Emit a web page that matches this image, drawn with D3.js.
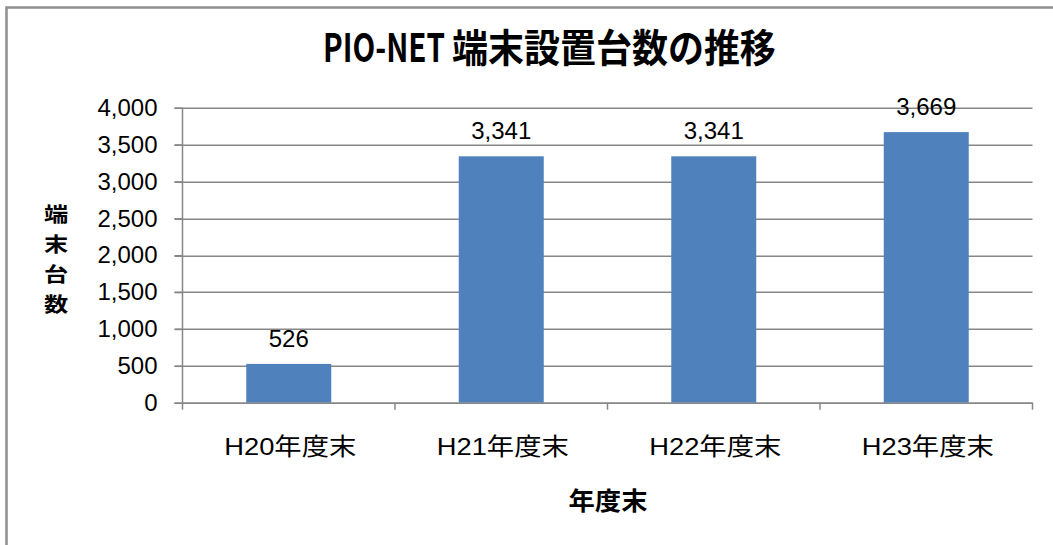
<!DOCTYPE html>
<html>
<head>
<meta charset="utf-8">
<script src="https://cdn.jsdelivr.net/npm/d3@7"></script>
<style>
  body { margin: 0; background: #fff; }
  svg { display: block; font-family: "Liberation Sans", "Noto Sans CJK JP", sans-serif; }
</style>
</head>
<body>
<svg width="1053" height="545"></svg>
<script>
var categories = ["H20年度末", "H21年度末", "H22年度末", "H23年度末"];
var values = [526, 3341, 3341, 3669];
var yTicks = [0, 500, 1000, 1500, 2000, 2500, 3000, 3500, 4000];

var margin = {top: 108, right: 20, bottom: 142, left: 183},
    width = 1053 - margin.left - margin.right,
    height = 545 - margin.top - margin.bottom;

var svg = d3.select("svg");

// outer frame, runs off the right and bottom of the picture
svg.append("rect")
    .attr("x", 6.5).attr("y", 7.5)
    .attr("width", 1100).attr("height", 600)
    .attr("fill", "none")
    .attr("stroke", "#8f8f8f")
    .attr("stroke-width", 2.5);

var x = d3.scaleBand()
    .domain(categories)
    .range([0, 850])
    .paddingInner(0.6)
    .paddingOuter(0.3);

var y = d3.scaleLinear()
    .domain([0, 4000])
    .range([295, 0]);

var g = svg.append("g")
    .attr("transform", "translate(" + (margin.left - 0.5) + "," + (margin.top - 0.3) + ")");

// gridlines
g.selectAll(".grid")
    .data(yTicks)
  .enter().append("line")
    .attr("x1", -8)
    .attr("x2", 850)
    .attr("y1", function(d) { return Math.round(y(d)) + 0.5; })
    .attr("y2", function(d) { return Math.round(y(d)) + 0.5; })
    .attr("stroke", "#878787")
    .attr("stroke-width", 1.5);

// y axis
var yAxis = g.append("g")
    .call(d3.axisLeft(y).tickValues(yTicks).tickSize(8).tickPadding(17).tickFormat(d3.format(",")));
yAxis.selectAll("path, line").attr("stroke", "#878787").attr("stroke-width", 1.5);
yAxis.select(".domain").attr("d", "M0,0V295");
yAxis.selectAll("text")
    .attr("fill", "#000")
    .style("font-size", "24px")
    .style("font-family", "Liberation Sans");

// bars
g.selectAll(".bar")
    .data(values)
  .enter().append("rect")
    .attr("x", function(d, i) { return x(categories[i]); })
    .attr("width", x.bandwidth())
    .attr("y", function(d) { return y(d); })
    .attr("height", function(d) { return y(0) - y(d); })
    .attr("fill", "#4f81bd");

// value labels
g.selectAll(".lbl")
    .data(values)
  .enter().append("text")
    .attr("x", function(d, i) { return x(categories[i]) + x.bandwidth() / 2; })
    .attr("y", function(d) { return y(d) - 17; })
    .attr("text-anchor", "middle")
    .style("font-size", "24px")
    .style("font-family", "Liberation Sans")
    .text(d3.format(","));

// x axis
g.append("line")
    .attr("x1", 0).attr("x2", 850)
    .attr("y1", y(0) + 0.5).attr("y2", y(0) + 0.5)
    .attr("stroke", "#878787").attr("stroke-width", 1.5);

var bounds = categories.map(function(c) { return x(c) - x.step() * x.paddingInner() / 2; }).concat([850]);
g.selectAll(".xtick")
    .data(bounds)
  .enter().append("line")
    .attr("x1", function(d) { return d; }).attr("x2", function(d) { return d; })
    .attr("y1", y(0)).attr("y2", y(0) + 7)
    .attr("stroke", "#878787").attr("stroke-width", 1.5);

g.selectAll(".xlbl")
    .data(categories)
  .enter().append("text")
    .attr("x", function(d) { return x(d) + x.bandwidth() / 2 + 1.5; })
    .attr("y", y(0) + 52)
    .attr("text-anchor", "middle")
    .attr("textLength", 132)
    .attr("lengthAdjust", "spacingAndGlyphs")
    .style("font-size", "24px")
    .text(function(d) { return d; });

// x axis title
svg.append("text")
    .attr("x", 608)
    .attr("y", 510)
    .attr("text-anchor", "middle")
    .attr("textLength", 79)
    .attr("lengthAdjust", "spacingAndGlyphs")
    .style("font-family", "Noto Sans CJK JP")
    .style("font-size", "25px")
    .style("font-weight", "bold")
    .text("年度末");

// y axis title, one character per line
svg.selectAll(".ytitle")
    .data("端末台数".split(""))
  .enter().append("text")
    .attr("transform", function(d, i) { return "translate(56," + (222 + i * 30) + ") scale(1.18,1)"; })
    .attr("text-anchor", "middle")
    .style("font-family", "Noto Sans CJK JP")
    .style("font-size", "20.5px")
    .style("font-weight", "bold")
    .text(function(d) { return d; });

// title: narrow latin part, then the Japanese part
var t1 = svg.append("text")
    .style("font-family", "Noto Sans CJK JP")
    .style("font-size", "40px")
    .style("font-weight", "bold")
    .text("PIO-NET");
var fs = 40 * 122 / t1.node().getComputedTextLength();
t1.style("font-size", fs + "px")
    .attr("transform", "translate(323,62) scale(1," + (29 / (fs * 0.733)) + ")");

svg.append("text")
    .attr("transform", "translate(452,62) scale(1,1.06)")
    .style("font-family", "Noto Sans CJK JP")
    .style("font-size", "36px")
    .style("font-weight", "bold")
    .text("端末設置台数の推移");
</script>
</body>
</html>
